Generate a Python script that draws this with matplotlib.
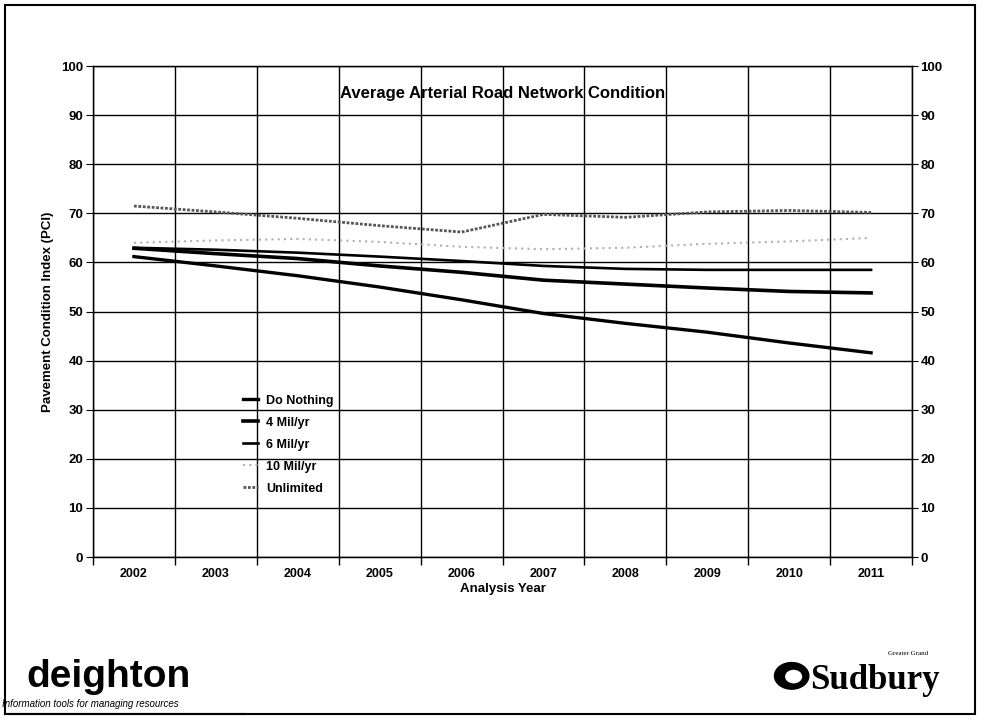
import matplotlib
matplotlib.use('Agg')
import matplotlib.pyplot as plt
from matplotlib.patches import Rectangle, Ellipse
from matplotlib.lines import Line2D

plt.rcParams['font.family'] = ['Liberation Sans', 'DejaVu Sans']

years = ['2002', '2003', '2004', '2005', '2006', '2007', '2008', '2009', '2010', '2011']
do_nothing = [61.2, 59.3, 57.3, 55.0, 52.4, 49.6, 47.6, 45.8, 43.6, 41.6]
mil_4 = [62.9, 61.8, 60.8, 59.3, 58.0, 56.4, 55.6, 54.8, 54.1, 53.8]
mil_6 = [63.0, 62.6, 62.0, 61.2, 60.3, 59.3, 58.7, 58.5, 58.5, 58.5]
mil_10 = [64.0, 64.5, 64.8, 64.2, 63.2, 62.7, 63.0, 63.8, 64.3, 65.0]
unlimited = [71.5, 70.3, 69.0, 67.5, 66.2, 69.8, 69.2, 70.3, 70.6, 70.2]
yticks = list(range(0, 101, 10))

fig = plt.figure(figsize=(9.81, 7.19), dpi=100)
ax = fig.add_axes([0.0948, 0.2253, 0.8349, 0.6827])
x = list(range(len(years)))

ax.plot(x, do_nothing, color='black', lw=2.4, label='Do Nothing')
ax.plot(x, mil_4, color='black', lw=2.6, label='4 Mil/yr')
ax.plot(x, mil_6, color='black', lw=1.9, label='6 Mil/yr')
ax.plot(x, mil_10, color='#b0b0b0', lw=1.5, ls=(0, (1, 2)), label='10 Mil/yr')
ax.plot(x, unlimited, color='#555555', lw=2.0, ls=(0, (1, 0.6)), label='Unlimited')

ax.set_xlim(-0.5, len(years) - 0.5)
ax.set_ylim(0, 100)
ax.set_yticks(yticks)
ax.set_xticks(x)
ax.set_xticklabels(years, fontweight='bold', fontsize=9)
ax.set_xticks([i - 0.5 for i in range(len(years) + 1)], minor=True)
ax.tick_params(axis='x', which='major', length=0, pad=8)
ax.tick_params(axis='x', which='minor', length=6, direction='out', width=1)
ax.tick_params(axis='y', length=5, direction='out', labelsize=9.5, pad=2)
for t in ax.get_yticklabels():
    t.set_fontweight('bold')
ax.grid(True, which='minor', axis='x', color='black', lw=1)
ax.grid(True, which='major', axis='y', color='black', lw=1)
for s in ax.spines.values():
    s.set_linewidth(1)

ax2 = ax.twinx()
ax2.set_ylim(0, 100)
ax2.set_yticks(yticks)
ax2.tick_params(axis='y', length=4, direction='out', labelsize=9.5, pad=2)
for t in ax2.get_yticklabels():
    t.set_fontweight('bold')

ax.set_xlabel('Analysis Year', fontweight='bold', fontsize=9.5, labelpad=2)
ax.set_ylabel('Pavement Condition Index (PCI)', fontweight='bold', fontsize=9.5, labelpad=5)
ax.text(0.5, 0.945, 'Average Arterial Road Network Condition', transform=ax.transAxes,
        ha='center', va='center', fontweight='bold', fontsize=12)

leg = ax.legend(loc='upper left', bbox_to_anchor=(0.183, 0.331), frameon=False,
                borderpad=0, borderaxespad=0,
                handlelength=1.2, handletextpad=0.65, labelspacing=0.8,
                prop={'weight': 'bold', 'size': 9})

# page frame
fig.patches.append(Rectangle((0.005, 0.007), 0.989, 0.986, transform=fig.transFigure,
                             fill=False, edgecolor='black', lw=1.5))

# logos
fig.text(0.027, 0.0445, 'deighton', fontsize=28, fontweight='bold', ha='left', va='baseline')
fig.text(0.002, 0.016, 'Information tools for managing resources', fontsize=7,
         style='italic', ha='left', va='baseline')
fig.lines.append(Line2D([0.005, 0.25], [0.007, 0.007], transform=fig.transFigure,
                        color='black', lw=1.5))
fig.patches.append(Ellipse((0.807, 0.060), 0.035, 0.037, transform=fig.transFigure,
                           color='black'))
fig.patches.append(Ellipse((0.809, 0.059), 0.016, 0.017, transform=fig.transFigure,
                           color='white'))
fig.text(0.826, 0.042, 'Sudbury', fontsize=25, fontweight='bold',
         family=['Liberation Serif', 'DejaVu Serif'], ha='left', va='baseline')
fig.text(0.905, 0.087, 'Greater Grand', fontsize=5, family=['Liberation Serif', 'DejaVu Serif'],
         ha='left', va='bottom')

fig.savefig('out.png', dpi=100)
